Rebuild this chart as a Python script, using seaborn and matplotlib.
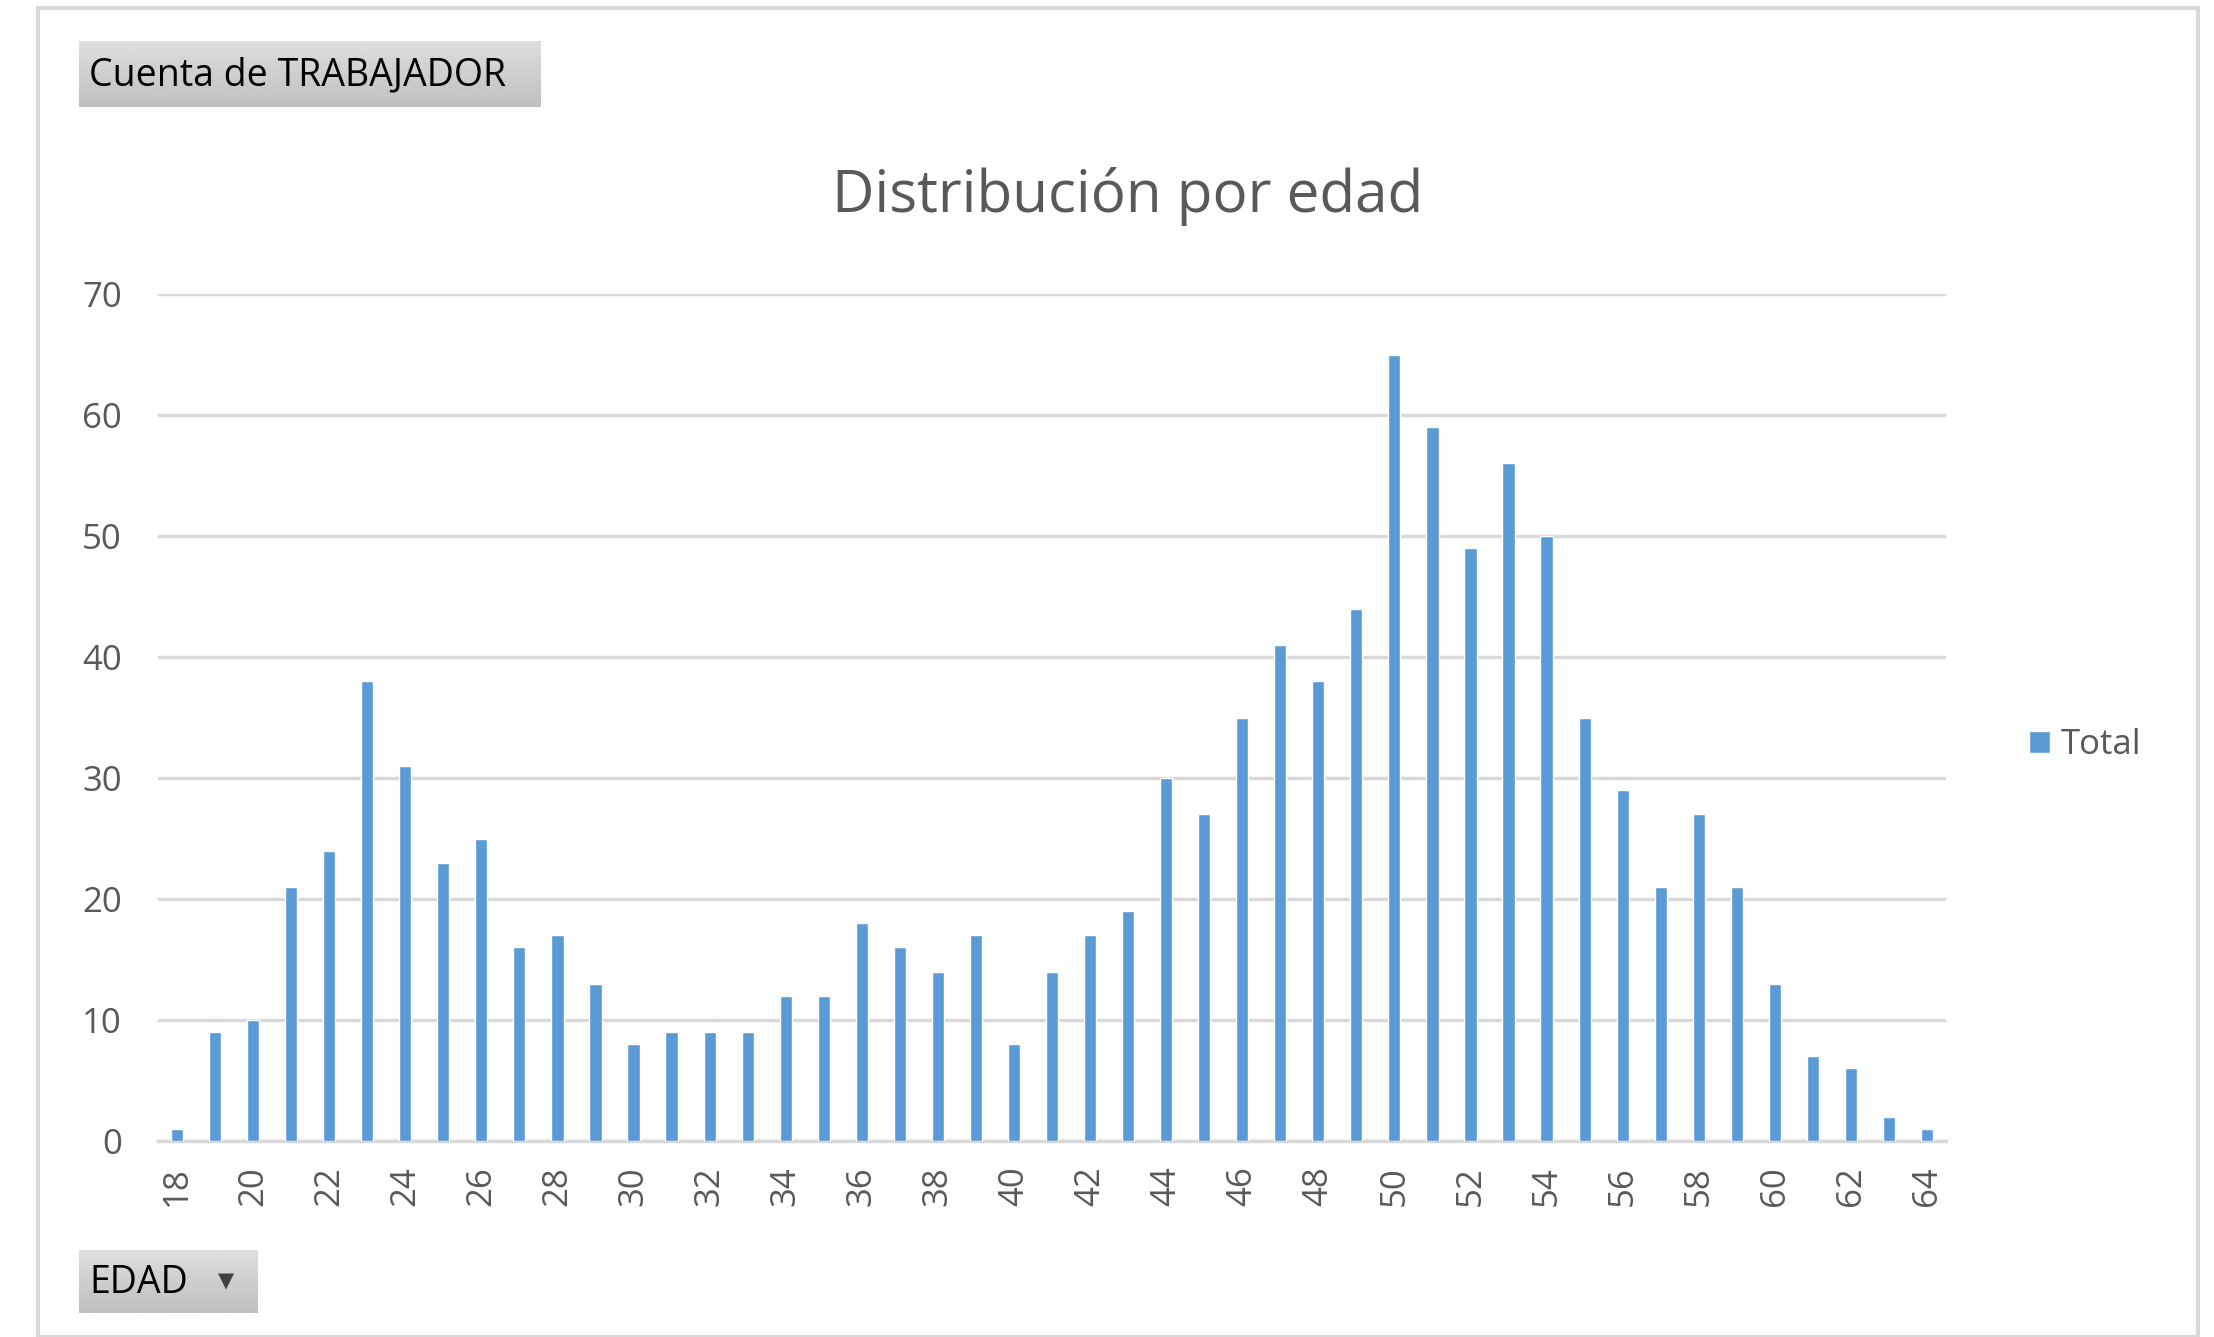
import numpy as np
import pandas as pd
import matplotlib
matplotlib.use("Agg")
import matplotlib.pyplot as plt
import seaborn as sns
from matplotlib.patches import Rectangle

# Datos
edades = list(range(18, 65))
trabajadores = [1, 9, 10, 21, 24, 38, 31, 23, 25, 16, 17, 13, 8, 9, 9, 9, 12, 12,
                18, 16, 14, 17, 8, 14, 17, 19, 30, 27, 35, 41, 38, 44, 65, 59, 49,
                56, 50, 35, 29, 21, 27, 21, 13, 7, 6, 2, 1]
etiquetas_x = [str(e) if e % 2 == 0 else "" for e in edades]

AZUL = "#5B9BD5"
GRIS_TXT = "#595959"
GRIS_REJ = "#D9D9D9"

sns.set_style("white")
plt.rcParams["font.family"] = ["Open Sans", "DejaVu Sans"]

W, H = 2214, 1337
fig = plt.figure(figsize=(W / 100, H / 100), dpi=100)
fig.patch.set_facecolor("white")

# marco exterior del gráfico
fig.patches.append(Rectangle((38 / W, 0), (2198 - 38) / W, 1 - 8 / H,
                             transform=fig.transFigure, fill=False,
                             edgecolor=GRIS_REJ, linewidth=3))

ax = fig.add_axes([158 / W, 196 / H, (1946 - 158) / W, (1141 - 294) / H])

df = pd.DataFrame({"EDAD": [str(e) for e in edades], "Total": trabajadores})
sns.barplot(data=df, x="EDAD", y="Total", color=AZUL, width=0.32,
            saturation=1, label="Total", ax=ax, zorder=3)

ax.set_ylim(0, 70)
ax.set_yticks(range(0, 71, 10))
ax.set_xlim(-0.5, len(edades) - 0.5)
ax.set_xticks(range(len(edades)))
ax.set_xticklabels(etiquetas_x, rotation=90)
ax.tick_params(axis="both", length=0, labelsize=25, labelcolor=GRIS_TXT)
ax.tick_params(axis="y", pad=26)
ax.tick_params(axis="x", pad=18)
ax.set_xlabel("")
ax.set_ylabel("")
ax.grid(axis="y", color=GRIS_REJ, linewidth=2.5, zorder=0)
ax.set_axisbelow(True)
for s in ["top", "right", "left"]:
    ax.spines[s].set_visible(False)
ax.spines["bottom"].set_color(GRIS_REJ)
ax.spines["bottom"].set_linewidth(2.5)

fig.text(1128 / W, 1 - 196 / H, "Distribución por edad", ha="center",
         va="center", fontsize=42, color=GRIS_TXT)

ax.legend(loc="center left", bbox_to_anchor=(1998 / W, 1 - 745 / H),
          bbox_transform=fig.transFigure, frameon=False, fontsize=25,
          handlelength=0.6, handleheight=0.6, handletextpad=0.3,
          labelcolor=GRIS_TXT)


def boton(x0, y0, x1, y1, texto, flecha=False):
    bax = fig.add_axes([x0 / W, 1 - y1 / H, (x1 - x0) / W, (y1 - y0) / H])
    grad = np.linspace(0.87, 0.75, 50).reshape(-1, 1)
    bax.imshow(np.repeat(grad, 2, axis=1), cmap="gray", vmin=0, vmax=1,
               aspect="auto", extent=(0, 1, 0, 1), origin="upper")
    bax.set_xlim(0, 1)
    bax.set_ylim(0, 1)
    bax.axis("off")
    bax.text(10 / (x1 - x0), 0.48, texto, ha="left", va="center",
             fontsize=27, color="black", transform=bax.transAxes)
    if flecha:
        bax.text(0.82, 0.5, "▼", ha="center", va="center", fontsize=15,
                 color="#404040", family="DejaVu Sans", transform=bax.transAxes)


boton(79, 41, 541, 107, "Cuenta de TRABAJADOR")
boton(79, 1250, 258, 1313, "EDAD", flecha=True)

fig.savefig("out.png", dpi=100, facecolor="white")
